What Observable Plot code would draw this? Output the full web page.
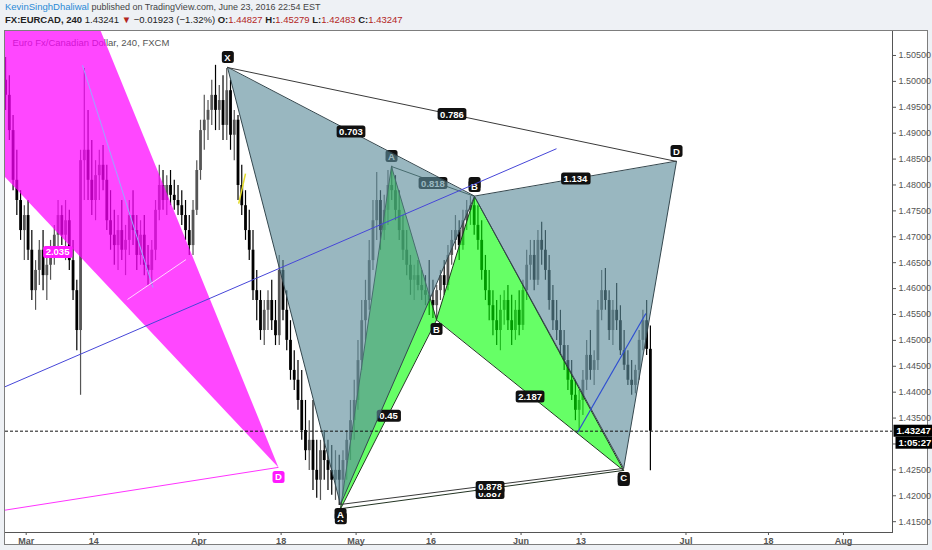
<!DOCTYPE html>
<html>
<head>
<meta charset="utf-8">
<script src="https://cdn.jsdelivr.net/npm/d3@7"></script>
<script src="https://cdn.jsdelivr.net/npm/@observablehq/plot@0.6"></script>
<style>
  html, body { margin: 0; padding: 0; }
  body { width: 932px; height: 550px; overflow: hidden; background: #eef1f5; font-family: "Liberation Sans", Arial, sans-serif; position: relative; }
  #l1 { position: absolute; left: 5px; top: 1px; font-size: 9px; color: #444; white-space: nowrap; }
  #l1 .user { font-size: 9.5px; }
  #l2 { position: absolute; left: 5px; top: 14px; font-size: 9.5px; color: #222; white-space: nowrap; }
  .user { color: #2b8ad6; }
  .red { color: #b3261e; }
  #chart { position: absolute; left: 4px; top: 30px; width: 924px; height: 515px; border: 1px solid #7d7d7d; box-sizing: border-box; background: #fff; }
  #chart svg g[aria-label^="x-axis"] text { font-weight: bold; }
</style>
</head>
<body>
<div id="l1"><span class="user">KevinSinghDhaliwal</span> published on TradingView.com, June 23, 2016 22:54 EST</div>
<div id="l2"><b>FX:EURCAD, 240</b> 1.43241 <span class="red">▼</span> −0.01923 (−1.32%) <b>O:</b><span class="red">1.44827</span> <b>H:</b><span class="red">1.45279</span> <b>L:</b><span class="red">1.42483</span> <b>C:</b><span class="red">1.43247</span></div>
<div id="chart"></div>
<script>
// ---------- EUR/CAD 12-hour bars (two per trading day, from 2016-02-25) ----------
const firstBarDay = "2016-02-25";
const firstOpen = 1.5002;
const closes = [
  1.4973,1.4905,1.4809,1.4770,1.4712,1.4741,1.4674,1.4596,1.4635,1.4674,
  1.4625,1.4645,1.4674,1.4703,1.4741,1.4703,1.4731,1.4654,1.4596,1.4519,
  1.4847,1.4867,1.4809,1.4770,1.4818,1.4838,1.4809,1.4731,1.4703,1.4683,
  1.4712,1.4674,1.4693,1.4741,1.4712,1.4664,1.4703,1.4645,1.4635,1.4674,
  1.4751,1.4799,1.4770,1.4799,1.4780,1.4770,1.4760,1.4741,1.4712,1.4683,
  1.4751,1.4828,1.4905,1.4925,1.4944,1.4973,1.4944,1.4963,1.4915,1.4982,
  1.4896,1.4925,1.4799,1.4760,1.4712,1.4674,1.4596,1.4577,1.4519,1.4558,
  1.4577,1.4538,1.4509,1.4635,1.4558,1.4500,1.4442,1.4423,1.4384,1.4326,
  1.4287,1.4307,1.4249,1.4230,1.4287,1.4268,1.4249,1.4230,1.4249,1.4230,
  1.4268,1.4307,1.4345,1.4384,1.4461,1.4538,1.4577,1.4654,1.4731,1.4770,
  1.4712,1.4751,1.4799,1.4789,1.4751,1.4712,1.4674,1.4645,1.4616,1.4625,
  1.4606,1.4596,1.4587,1.4577,1.4567,1.4596,1.4625,1.4606,1.4664,1.4693,
  1.4712,1.4683,1.4731,1.4751,1.4760,1.4722,1.4693,1.4635,1.4596,1.4567,
  1.4538,1.4519,1.4558,1.4577,1.4538,1.4519,1.4558,1.4529,1.4596,1.4645,
  1.4664,1.4616,1.4693,1.4674,1.4635,1.4577,1.4538,1.4519,1.4490,1.4461,
  1.4423,1.4394,1.4365,1.4384,1.4423,1.4471,1.4442,1.4461,1.4558,1.4596,
  1.4577,1.4519,1.4558,1.4538,1.4480,1.4452,1.4423,1.4413,1.4442,1.4500,
  1.4538,1.44827,1.43247
];
const highs = [
  1.5046,1.5011,1.4934,1.4867,1.4789,1.4760,1.4770,1.4712,1.4654,1.4693,
  1.4712,1.4664,1.4693,1.4722,1.4770,1.4760,1.4770,1.4751,1.4693,1.4616,
  1.4867,1.5025,1.4944,1.4886,1.4847,1.4867,1.4876,1.4838,1.4789,1.4751,
  1.4741,1.4770,1.4722,1.4770,1.4789,1.4741,1.4731,1.4741,1.4683,1.4693,
  1.4770,1.4838,1.4828,1.4818,1.4828,1.4809,1.4799,1.4789,1.4770,1.4741,
  1.4770,1.4847,1.4925,1.4973,1.4963,1.5002,1.5031,1.4992,1.5011,1.5025,
  1.5002,1.4944,1.4934,1.4838,1.4789,1.4751,1.4712,1.4635,1.4596,1.4577,
  1.4596,1.4616,1.4577,1.4664,1.4654,1.4596,1.4538,1.4480,1.4461,1.4442,
  1.4384,1.4345,1.4384,1.4307,1.4307,1.4326,1.4307,1.4297,1.4287,1.4278,
  1.4287,1.4326,1.4384,1.4423,1.4500,1.4577,1.4616,1.4693,1.4770,1.4824,
  1.4789,1.4780,1.4828,1.4836,1.4818,1.4789,1.4741,1.4712,1.4664,1.4645,
  1.4654,1.4635,1.4625,1.4654,1.4616,1.4606,1.4635,1.4654,1.4683,1.4712,
  1.4741,1.4731,1.4751,1.4770,1.4778,1.4776,1.4760,1.4731,1.4664,1.4635,
  1.4596,1.4577,1.4587,1.4596,1.4606,1.4587,1.4577,1.4596,1.4616,1.4674,
  1.4693,1.4693,1.4712,1.4728,1.4712,1.4664,1.4606,1.4577,1.4558,1.4519,
  1.4490,1.4461,1.4423,1.4403,1.4442,1.4500,1.4519,1.4480,1.4577,1.4635,
  1.4639,1.4596,1.4577,1.4610,1.4567,1.4519,1.4480,1.4461,1.4452,1.4519,
  1.4558,1.4577,1.45279
];
const lows = [
  1.4944,1.4886,1.4789,1.4741,1.4693,1.4654,1.4654,1.4577,1.4558,1.4606,
  1.4596,1.4577,1.4616,1.4645,1.4674,1.4683,1.4654,1.4635,1.4577,1.4480,
  1.4394,1.4770,1.4770,1.4741,1.4731,1.4770,1.4789,1.4712,1.4674,1.4645,
  1.4635,1.4654,1.4625,1.4664,1.4683,1.4635,1.4645,1.4625,1.4606,1.4606,
  1.4654,1.4731,1.4751,1.4741,1.4760,1.4751,1.4741,1.4722,1.4693,1.4664,
  1.4664,1.4741,1.4809,1.4867,1.4886,1.4915,1.4905,1.4905,1.4886,1.4886,
  1.4867,1.4847,1.4770,1.4741,1.4693,1.4654,1.4577,1.4538,1.4500,1.4490,
  1.4519,1.4519,1.4490,1.4490,1.4538,1.4480,1.4423,1.4403,1.4365,1.4307,
  1.4268,1.4249,1.4210,1.4195,1.4191,1.4230,1.4210,1.4201,1.4191,1.4181,
  1.4201,1.4230,1.4268,1.4307,1.4365,1.4442,1.4500,1.4558,1.4635,1.4693,
  1.4674,1.4693,1.4722,1.4770,1.4731,1.4693,1.4654,1.4625,1.4587,1.4577,
  1.4596,1.4577,1.4567,1.4548,1.4542,1.4540,1.4577,1.4587,1.4596,1.4645,
  1.4674,1.4654,1.4674,1.4712,1.4722,1.4703,1.4674,1.4616,1.4577,1.4538,
  1.4509,1.4490,1.4480,1.4529,1.4519,1.4490,1.4500,1.4509,1.4519,1.4577,
  1.4616,1.4596,1.4606,1.4645,1.4616,1.4558,1.4519,1.4500,1.4471,1.4442,
  1.4403,1.4384,1.4345,1.4322,1.4355,1.4403,1.4423,1.4413,1.4442,1.4538,
  1.4558,1.4500,1.4490,1.4519,1.4471,1.4442,1.4413,1.4394,1.4397,1.4423,
  1.4480,1.4471,1.42483
];
const lastClose = 1.43247;
const barCountdown = "1:05:27";
const chartTitle = "Euro Fx/Canadian Dollar, 240, FXCM";

// ---------- axes ----------
const tickDates = ["2016-03-01","2016-03-14","2016-04-01","2016-04-18","2016-05-02","2016-05-16","2016-06-01","2016-06-13","2016-07-01","2016-07-18","2016-08-01"];
const tickLabels = ["Mar","14","Apr","18","May","16","Jun","13","Jul","18","Aug"];
const priceTicks = [1.415,1.42,1.425,1.43,1.435,1.44,1.445,1.45,1.455,1.46,1.465,1.47,1.475,1.48,1.485,1.49,1.495,1.5,1.505];
const timeDomain = ["2016-02-25 05:45", "2016-08-09 13:00"];
const priceDomain = [1.41291, 1.50963];

// ---------- harmonic pattern (grey) ----------
const greyNames  = ["X","A","B","C","D"];
const greyTimes  = ["2016-04-06 20:24","2016-04-27 22:00","2016-05-23 19:00","2016-06-20 16:30","2016-06-29 17:30"];
const greyPrices = [1.50268, 1.41832, 1.47778, 1.42529, 1.48454];
const greyRatios = [["X","B","0.703"],["X","D","0.786"],["A","C","0.878"],["B","D","1.134"]];

// ---------- harmonic pattern (green) ----------
const greenNames  = ["X","A","B","C","D"];
const greenTimes  = ["2016-04-27 22:00","2016-05-06 17:15","2016-05-16 17:15","2016-05-23 19:00","2016-06-20 16:30"];
const greenPrices = [1.4175, 1.48357, 1.45403, 1.47778, 1.4249];
const greenRatios = [["X","D","0.887"],["X","B","0.45"],["A","C","0.818"],["B","D","2.187"]];

// ---------- harmonic pattern (magenta, mostly left of the view) ----------
const magentaNames  = ["X","B","C","D"];
const magentaTimes  = ["2016-01-27 13:40","2016-01-27 13:40","2016-03-01 03:10","2016-04-15 15:30"];
const magentaPrices = [1.41256, 1.51324, 1.54457, 1.42548];
const magentaRatioText = "2.035";
const magentaRatioAt = ["2016-03-07 04:20", 1.46698];

// ---------- trend lines ----------
const trendLines = [
  {from: ["2016-02-25 02:30", 1.4410], to: ["2016-06-07 17:30", 1.4870], color: "#4646d8", width: 1},
  {from: ["2016-06-10 12:45", 1.43222], to: ["2016-06-23 15:30", 1.4552], color: "#2f4fd0", width: 1.2},
  {from: ["2016-03-10 12:15", 1.5031], to: ["2016-03-23 22:00", 1.4602], color: "#9aa6ff", width: 1},
  {from: ["2016-03-18 12:15", 1.4579], to: ["2016-03-30 07:30", 1.4656], color: "#ffd6ff", width: 1},
  {from: ["2016-04-08 08:10", 1.4764], to: ["2016-04-11 06:00", 1.4822], color: "#e4dc2a", width: 1.5}
];

// Weekday count from 2016-03-01 (forex time axis skips weekends), plus fraction of the day
function tradingDay(s) {
  const [day, time = "00:00"] = s.split(" ");
  const [hh, mm] = time.split(":").map(Number);
  const target = new Date(day + "T00:00:00Z");
  const cur = new Date("2016-03-01T00:00:00Z");
  let n = 0;
  if (target >= cur) {
    while (cur < target) { const w = cur.getUTCDay(); if (w !== 0 && w !== 6) n++; cur.setUTCDate(cur.getUTCDate() + 1); }
  } else {
    while (cur > target) { cur.setUTCDate(cur.getUTCDate() - 1); const w = cur.getUTCDay(); if (w !== 0 && w !== 6) n--; }
  }
  return n + (hh + mm / 60) / 24;
}

// bar table
const day0 = tradingDay(firstBarDay);
const bars = closes.map((c, k) => {
  const open = k === 0 ? firstOpen : closes[k - 1];
  return {
    t: day0 + Math.floor(k / 2) + 0.25 + 0.5 * (k % 2),
    open, close: c,
    high: Math.max(highs[k], open, c),
    low: Math.min(lows[k], open, c),
    up: c >= open
  };
});

function pivots(names, times, prices) {
  return names.map((n, i) => ({name: n, t: tradingDay(times[i]), p: prices[i]}));
}
const grey = pivots(greyNames, greyTimes, greyPrices);
const green = pivots(greenNames, greenTimes, greenPrices);
const magenta = pivots(magentaNames, magentaTimes, magentaPrices);
const by = (arr) => Object.fromEntries(arr.map(d => [d.name, d]));
const G = by(grey), N = by(green), M = by(magenta);

function triangles(P, tris) {
  return tris.flatMap((tri, j) => tri.map(n => ({tri: j, t: P[n].t, p: P[n].p})));
}
function links(P, pairs) {
  return pairs.map(([a, b, text]) => ({t1: P[a].t, p1: P[a].p, t2: P[b].t, p2: P[b].p, text, pair: a + b,
    tm: (P[a].t + P[b].t) / 2, pm: (P[a].p + P[b].p) / 2}));
}
const greyTris = triangles(G, [["X","A","B"],["B","C","D"]]);
const greenTris = triangles(N, [["X","A","B"],["B","C","D"]]);
const magentaTris = triangles(M, [["B","C","D"]]);
const greyLinks = links(G, greyRatios);
const greenLinks = links(N, greenRatios);
const magentaLine = links(M, [["X","D",""]]);
const trends = trendLines.map(d => ({t1: tradingDay(d.from[0]), p1: d.from[1], t2: tradingDay(d.to[0]), p2: d.to[1], color: d.color, width: d.width}));

const highsSide = new Set(["X","B","D"]);      // grey: labels above highs

// label text colours double as keys for the box colours drawn behind them
const DARK = "#fffffe", PINK = "#fffffd", TAG = "#fffffc";
const boxFill = {[DARK]: "#111", [PINK]: "#ff1aff", [TAG]: "#000"};
const lbl = (fill) => ({fontWeight: "bold", fontSize: 9.5, fill});

const upColor = "#555", downColor = "#000";

const chart = Plot.plot({
  width: 922, height: 513,
  marginLeft: 0, marginTop: 0, marginRight: 35, marginBottom: 12,
  style: {background: "#fff", fontFamily: "Liberation Sans, Arial, sans-serif", fontSize: "9px", color: "#555", overflow: "visible"},
  x: {domain: timeDomain.map(tradingDay), ticks: tickDates.map(tradingDay),
      tickFormat: (v) => tickLabels[tickDates.map(tradingDay).indexOf(v)], tickSize: 3, tickPadding: 2, line: true, label: null},
  y: {domain: priceDomain, axis: "right", ticks: priceTicks, tickFormat: d3.format(".5f"), tickSize: 3, tickPadding: 3, line: true, label: null},
  marks: [
    Plot.text([chartTitle], {frameAnchor: "top-left", dx: 7, dy: 11, lineAnchor: "middle", textAnchor: "start", fill: "#555", fontSize: 9.5}),
    // candles
    Plot.ruleX(bars.filter(d => d.up), {x: "t", y1: "low", y2: "high", stroke: upColor, strokeWidth: 1.2, clip: true}),
    Plot.ruleX(bars.filter(d => !d.up), {x: "t", y1: "low", y2: "high", stroke: downColor, strokeWidth: 1.2, clip: true}),
    Plot.ruleX(bars.filter(d => d.up), {x: "t", y1: "open", y2: "close", stroke: upColor, strokeWidth: 2.8, clip: true}),
    Plot.ruleX(bars.filter(d => !d.up), {x: "t", y1: "open", y2: "close", stroke: downColor, strokeWidth: 2.8, clip: true}),
    // magenta pattern
    Plot.line(magentaTris, {x: "t", y: "p", z: "tri", curve: "linear-closed", fill: "#ff00ff", fillOpacity: 0.72, stroke: "none", clip: true}),
    Plot.link(magentaLine, {x1: "t1", y1: "p1", x2: "t2", y2: "p2", stroke: "#ff33ff", strokeWidth: 1, clip: true}),
    Plot.text([magentaRatioText], {x: () => tradingDay(magentaRatioAt[0]), y: () => magentaRatioAt[1], ...lbl(PINK)}),
    Plot.text(magenta.filter(d => d.name === "D"), {x: "t", y: "p", text: "name", dy: 10, ...lbl(PINK)}),
    // green pattern
    Plot.line(greenTris, {x: "t", y: "p", z: "tri", curve: "linear-closed", fill: "#00ff00", fillOpacity: 0.6, stroke: "#1f3a1f", strokeWidth: 1}),
    Plot.link(greenLinks.filter(d => d.pair === "XD" || d.pair === "AC"), {x1: "t1", y1: "p1", x2: "t2", y2: "p2", stroke: "#223322", strokeWidth: 1}),
    Plot.text(green.filter(d => d.name === "X" || d.name === "D"), {x: "t", y: "p", text: "name", dy: 10, ...lbl(DARK)}),
    Plot.text(green.filter(d => d.name === "C"), {x: "t", y: "p", text: "name", dy: -13, ...lbl(DARK)}),
    Plot.text(greenLinks.filter(d => d.pair === "XD"), {x: "tm", y: "pm", text: "text", dx: 8, dy: 4, ...lbl(DARK)}),
    Plot.text(greenLinks.filter(d => d.pair !== "XD"), {x: "tm", y: "pm", text: "text", dy: 2, ...lbl(DARK)}),
    Plot.text(green.filter(d => d.name === "A"), {x: "t", y: "p", text: "name", dy: -10, ...lbl(DARK)}),
    Plot.text(green.filter(d => d.name === "B"), {x: "t", y: "p", text: "name", dy: 10, ...lbl(DARK)}),
    // grey pattern
    Plot.line(greyTris, {x: "t", y: "p", z: "tri", curve: "linear-closed", fill: "#5d8d9c", fillOpacity: 0.63, stroke: "#34474e", strokeWidth: 1}),
    Plot.link(greyLinks.filter(d => d.pair === "XD" || d.pair === "AC"), {x1: "t1", y1: "p1", x2: "t2", y2: "p2", stroke: "#3a3a3a", strokeWidth: 1}),
    Plot.text(greyLinks.filter(d => d.pair !== "AC"), {x: "tm", y: "pm", text: "text", ...lbl(DARK)}),
    Plot.text(greyLinks.filter(d => d.pair === "AC"), {x: "tm", y: "pm", text: "text", dx: 8, dy: 1, ...lbl(DARK)}),
    Plot.text(grey.filter(d => highsSide.has(d.name)), {x: "t", y: "p", text: "name", dy: -10, ...lbl(DARK)}),
    Plot.text(grey.filter(d => !highsSide.has(d.name)), {x: "t", y: "p", text: "name", dy: 10, ...lbl(DARK)}),
    // trend lines
    Plot.link(trends, {x1: "t1", y1: "p1", x2: "t2", y2: "p2", stroke: d => d.color, strokeWidth: d => d.width, clip: true}),
    // last price
    Plot.ruleY([lastClose], {stroke: "#111", strokeDasharray: "3,2", strokeWidth: 1}),
    Plot.text([lastClose], {y: d => d, frameAnchor: "right", textAnchor: "start", dx: 4, text: d => d3.format(".5f")(d), ...lbl(TAG)}),
    Plot.text([lastClose], {y: d => d, frameAnchor: "right", textAnchor: "start", dx: 6, dy: 12, text: () => barCountdown, ...lbl(TAG)})
  ]
});

document.getElementById("chart").append(chart);

// rounded backgrounds behind the label texts
const svgNS = "http://www.w3.org/2000/svg";
chart.querySelectorAll("text").forEach(t => {
  let fill = null, node = t;
  while (node && node !== chart && !fill) {
    const f = node.getAttribute && node.getAttribute("fill");
    if (f && boxFill[f.toLowerCase()]) fill = f.toLowerCase();
    node = node.parentNode;
  }
  if (!fill) return;
  const b = t.getBBox();
  const r = document.createElementNS(svgNS, "rect");
  const px = fill === TAG ? 3 : 2.5;
  r.setAttribute("x", b.x - px);
  r.setAttribute("y", b.y - 0.5);
  r.setAttribute("width", b.width + 2 * px);
  r.setAttribute("height", b.height + 1);
  r.setAttribute("rx", fill === TAG ? 0 : 2.5);
  r.setAttribute("fill", boxFill[fill]);
  r.setAttribute("stroke", "none");
  if (t.getAttribute("transform")) r.setAttribute("transform", t.getAttribute("transform"));
  t.parentNode.insertBefore(r, t);
});
</script>
</body>
</html>
